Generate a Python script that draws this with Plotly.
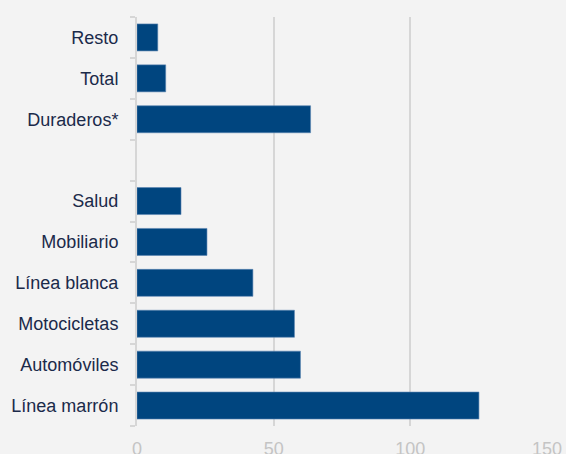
import plotly.graph_objects as go

categories = ["Resto", "Total", "Duraderos*", " ", "Salud", "Mobiliario",
              "Línea blanca", "Motocicletas", "Automóviles", "Línea marrón"]
values = [7.6, 10.5, 63.5, None, 16.1, 25.6, 42.4, 57.6, 59.8, 125.1]
x_ticks = [0, 50, 100, 150]

fig = go.Figure(go.Bar(
    y=categories, x=values, orientation="h",
    marker=dict(color="#00457f", line=dict(color="#5b84b1", width=0.6)),
    width=0.66,
))

fig.update_layout(
    width=566, height=454,
    margin=dict(l=137, r=19, t=17, b=28),
    paper_bgcolor="#f3f3f3", plot_bgcolor="#f3f3f3",
    font=dict(family="Liberation Sans, Arial, sans-serif", size=18, color="#1b2a4a"),
    showlegend=False,
)
fig.update_xaxes(
    range=[0, 150], tickvals=x_ticks, showgrid=True, gridcolor="#d6d6d6", gridwidth=1.5,
    zeroline=False, showline=False, ticks="outside", ticklen=6, tickcolor="rgba(0,0,0,0)",
    tickfont=dict(color="#c4c4c4", size=18), automargin=False,
)
fig.update_yaxes(
    categoryorder="array", categoryarray=categories[::-1], autorange=True,
    showline=True, linecolor="#d6d6d6", linewidth=2,
    ticks="outside", tickson="boundaries", ticklen=5, tickcolor="#d6d6d6", tickwidth=2,
    ticklabelstandoff=13, showgrid=False, automargin=False,
)

fig.write_html(
    "out.html",
    config={"displayModeBar": False},
    post_script="document.body.style.margin='0';document.body.style.background='#f3f3f3';",
)
